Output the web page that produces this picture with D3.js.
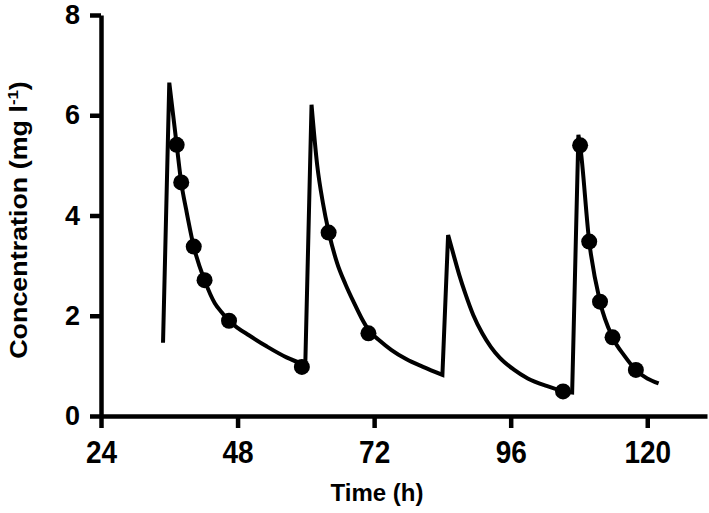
<!DOCTYPE html>
<html>
<head>
<meta charset="utf-8">
<script src="https://cdn.jsdelivr.net/npm/d3@7"></script>
<style>
  body { margin: 0; background: #fff; }
  svg text { font-family: "Liberation Sans", Arial, sans-serif; font-weight: bold; fill: #000; }
</style>
</head>
<body>
<script>
// simulated concentration curve (h, mg/l)
var lineT = [34.9, 36.0, 37.3, 38.1, 39.0, 40.3, 42.2, 44.0, 45.2, 46.5, 48.0, 50.0, 53.1, 56.6, 59.9,
             61.0, 62.0, 63.0, 64.0, 65.5, 67.0, 68.5, 69.8, 71.0, 73.0, 75.0, 77.7, 80.6, 84.0,
             85.0, 86.0, 87.0, 88.0, 89.4, 91.0, 92.5, 94.1, 96.5, 99.0, 102.3, 105.2, 106.8,
             107.9, 108.2, 109.8, 111.7, 113.9, 116.0, 118.0, 122.0];
var lineC = [1.46, 6.65, 5.41, 4.66, 4.10, 3.38, 2.71, 2.25, 2.07, 1.90, 1.76, 1.61, 1.39, 1.17, 1.02,
             6.21, 5.00, 4.25, 3.68, 3.05, 2.62, 2.25, 1.95, 1.72, 1.50, 1.32, 1.13, 0.98, 0.82,
             3.61, 3.20, 2.80, 2.45, 2.02, 1.65, 1.38, 1.16, 0.93, 0.75, 0.60, 0.50, 0.47,
             5.61, 5.40, 3.48, 2.28, 1.57, 1.20, 0.92, 0.65];

// measured concentrations
var obsT = [37.3, 38.1, 40.3, 42.2, 46.5, 59.3, 64.0, 71.0, 105.2, 108.2, 109.8, 111.7, 113.9, 118.0];
var obsC = [5.41, 4.66, 3.38, 2.71, 1.90, 0.98, 3.66, 1.65, 0.49, 5.40, 3.48, 2.28, 1.57, 0.92];

var xTicks = [24, 48, 72, 96, 120];
var yTicks = [0, 2, 4, 6, 8];

var svg = d3.select("body").append("svg")
	.attr("width", 709)
	.attr("height", 513);

var x = d3.scaleLinear().domain([24, 130.5]).range([101, 707]);
var y = d3.scaleLinear().domain([0, 8]).range([416, 15]);

// axes
var xAxis = svg.append("g")
	.attr("transform", "translate(0," + y(0) + ")")
	.call(d3.axisBottom(x).tickValues(xTicks).tickSize(12).tickPadding(11).tickSizeOuter(0));
var yAxis = svg.append("g")
	.attr("transform", "translate(" + x(24) + ",0)")
	.call(d3.axisLeft(y).tickValues(yTicks).tickSize(11).tickPadding(10).tickSizeOuter(0));

[xAxis, yAxis].forEach(function(a){
	a.selectAll("path, line").attr("stroke", "#000").attr("stroke-width", 4.5);
	a.selectAll("text").style("font-size", "27px").attr("fill", "#000");
});
xAxis.selectAll("text").style("font-size", "28px").attr("transform", "scale(1,1.1)");

// split the curve: straight infusion rises, smooth decays
var pts = lineT.map(function(t, i){ return {t: t, c: lineC[i]}; });
var segs = [];
var start = 0;
for (var i = 1; i < pts.length; i++) {
	var up = pts[i].c > pts[i-1].c;
	var nextUp = i + 1 < pts.length ? pts[i+1].c > pts[i].c : null;
	if (nextUp === null || nextUp !== up) {
		segs.push({up: up, pts: pts.slice(start, i + 1)});
		start = i;
	}
}

var d = segs.map(function(s, k){
	var gen = d3.line()
		.x(function(p){ return x(p.t); })
		.y(function(p){ return y(p.c); })
		.curve(s.up ? d3.curveLinear : d3.curveMonotoneX);
	var str = gen(s.pts);
	return k === 0 ? str : "L" + str.slice(1);
}).join("");

svg.append("path")
	.attr("d", d)
	.attr("fill", "none")
	.attr("stroke", "#000")
	.attr("stroke-width", 4)
	.attr("stroke-linejoin", "miter");

svg.selectAll("circle")
	.data(obsT.map(function(t, i){ return {t: t, c: obsC[i]}; }))
	.enter()
	.append("circle")
	.attr("cx", function(p){ return x(p.t); })
	.attr("cy", function(p){ return y(p.c); })
	.attr("r", 8)
	.style("fill", "#000");

// axis titles
svg.append("text")
	.attr("x", 377)
	.attr("y", 501)
	.attr("text-anchor", "middle")
	.style("font-size", "24px")
	.text("Time (h)");

var yt = svg.append("text")
	.attr("transform", "translate(27,220) rotate(-90) scale(1.12,1)")
	.attr("text-anchor", "middle")
	.style("font-size", "24px");
yt.append("tspan").text("Concentration (mg l");
yt.append("tspan").attr("dy", -9).style("font-size", "15px").text("-1");
yt.append("tspan").attr("dy", 9).text(")");
</script>
</body>
</html>
